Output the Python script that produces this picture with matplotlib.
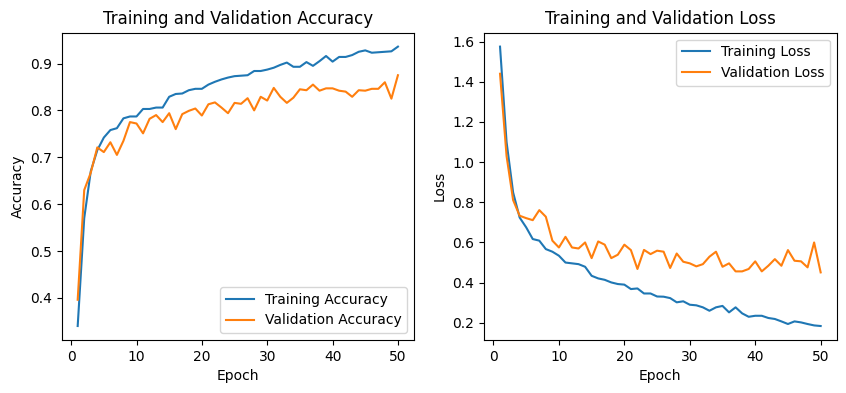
import matplotlib
matplotlib.use("Agg")
import matplotlib.pyplot as plt

epochs = list(range(1, 51))

train_acc = [0.34, 0.57, 0.67, 0.715, 0.742, 0.758, 0.762, 0.783, 0.787, 0.787,
             0.803, 0.803, 0.806, 0.806, 0.829, 0.835, 0.836, 0.843, 0.846, 0.846,
             0.855, 0.861, 0.866, 0.870, 0.873, 0.874, 0.875, 0.884, 0.884, 0.887,
             0.891, 0.897, 0.902, 0.893, 0.893, 0.903, 0.895, 0.905, 0.916, 0.904,
             0.914, 0.914, 0.918, 0.925, 0.928, 0.923, 0.924, 0.925, 0.926, 0.936]
val_acc = [0.396, 0.630, 0.667, 0.721, 0.711, 0.732, 0.705, 0.735, 0.775, 0.772,
           0.751, 0.782, 0.790, 0.775, 0.794, 0.760, 0.792, 0.799, 0.804, 0.789,
           0.813, 0.817, 0.806, 0.794, 0.816, 0.814, 0.826, 0.800, 0.829, 0.821,
           0.848, 0.829, 0.816, 0.827, 0.845, 0.843, 0.855, 0.842, 0.847, 0.847,
           0.842, 0.840, 0.829, 0.843, 0.842, 0.846, 0.846, 0.860, 0.825, 0.875]

train_loss = [1.575, 1.10, 0.849, 0.724, 0.675, 0.617, 0.609, 0.567, 0.554, 0.534,
              0.500, 0.496, 0.492, 0.479, 0.434, 0.421, 0.414, 0.401, 0.393, 0.390,
              0.368, 0.371, 0.346, 0.346, 0.331, 0.330, 0.323, 0.302, 0.307, 0.290,
              0.287, 0.277, 0.260, 0.277, 0.284, 0.252, 0.277, 0.247, 0.230, 0.235,
              0.235, 0.224, 0.219, 0.207, 0.194, 0.207, 0.202, 0.194, 0.187, 0.184]
val_loss = [1.44, 1.03, 0.811, 0.733, 0.721, 0.711, 0.761, 0.728, 0.609, 0.575,
            0.628, 0.575, 0.570, 0.600, 0.522, 0.605, 0.589, 0.522, 0.539, 0.589,
            0.562, 0.468, 0.563, 0.542, 0.559, 0.554, 0.473, 0.545, 0.504, 0.496,
            0.481, 0.492, 0.529, 0.554, 0.479, 0.496, 0.456, 0.456, 0.468, 0.506,
            0.456, 0.484, 0.517, 0.484, 0.562, 0.509, 0.506, 0.476, 0.600, 0.451]

fig = plt.figure(figsize=(8.46, 3.93), dpi=100)
ax1 = fig.add_axes([0.0729, 0.1349, 0.4164, 0.782])
ax2 = fig.add_axes([0.5721, 0.1349, 0.4169, 0.782])

ax1.plot(epochs, train_acc, label="Training Accuracy")
ax1.plot(epochs, val_acc, label="Validation Accuracy")
ax1.set_title("Training and Validation Accuracy")
ax1.set_xlabel("Epoch")
ax1.set_ylabel("Accuracy")
ax1.legend(loc="lower right")

ax2.plot(epochs, train_loss, label="Training Loss")
ax2.plot(epochs, val_loss, label="Validation Loss")
ax2.set_title("Training and Validation Loss")
ax2.set_xlabel("Epoch")
ax2.set_ylabel("Loss")
ax2.legend(loc="upper right")

fig.savefig("out.png", dpi=100)
